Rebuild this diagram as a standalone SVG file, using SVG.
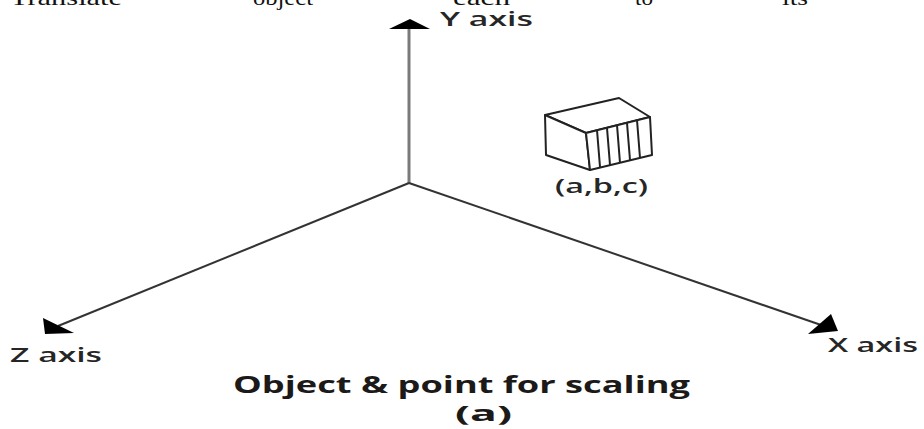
<svg xmlns="http://www.w3.org/2000/svg" width="924" height="429" viewBox="0 0 924 429">
  <style>
    .lbl { font-family: "Open Sans", "DejaVu Sans", sans-serif; font-weight: 600; font-size: 20px; fill: #262626; }
    .top { font-family: "Liberation Serif", "Times New Roman", serif; font-size: 22px; fill: #111; }
    .cap { font-family: "Open Sans", "DejaVu Sans", sans-serif; font-weight: bold; fill: #1c1a18; }
    .axis { stroke: #333; stroke-width: 2; fill: none; }
    .head { fill: #000; stroke: none; }
    .cube { stroke: #222; stroke-width: 2; fill: #fff; stroke-linejoin: round; }
    .hatch { stroke: #222; stroke-width: 2; fill: none; }
  </style>

  <!-- running text line above the figure (clipped at the top edge) -->
  <g id="running-text">
    <text class="top" x="10" y="5" textLength="112" lengthAdjust="spacingAndGlyphs">Translate</text>
    <text class="top" x="253" y="5" textLength="60" lengthAdjust="spacingAndGlyphs">object</text>
    <text class="top" x="453" y="5" textLength="57" lengthAdjust="spacingAndGlyphs">each</text>
    <text class="top" x="635" y="5" textLength="18" lengthAdjust="spacingAndGlyphs">to</text>
    <text class="top" x="782" y="5" textLength="26" lengthAdjust="spacingAndGlyphs">its</text>
  </g>

  <!-- coordinate axes -->
  <g id="connectors">
    <line id="y-axis-line" x1="409" y1="183" x2="409" y2="29" stroke="#7a7a7a" stroke-width="3"/>
    <polygon class="head" points="410,19 389,29 430,29"/>
    <line class="axis" x1="409" y1="183" x2="58" y2="326"/>
    <polygon class="head" points="43,318 45,334 74,333"/>
    <line class="axis" x1="409" y1="183" x2="824" y2="326"/>
    <polygon class="head" points="838,331 808,334 831,314"/>
  </g>

  <g id="y-axis-label">
    <text class="lbl" x="440" y="26" textLength="93" lengthAdjust="spacingAndGlyphs">Y axis</text>
  </g>
  <g id="z-axis-label">
    <text class="lbl" x="10" y="362" textLength="92" lengthAdjust="spacingAndGlyphs">Z axis</text>
  </g>
  <g id="x-axis-label">
    <text class="lbl" x="828" y="352" textLength="90" lengthAdjust="spacingAndGlyphs">X axis</text>
  </g>

  <!-- box object placed at (a,b,c) -->
  <g id="object">
    <polygon class="cube" points="545,115 619,98 650,117 586,133"/>
    <polygon class="cube" points="545,115 586,133 590,170 546,155"/>
    <polygon class="cube" points="586,133 650,117 652,155 590,170"/>
    <path class="hatch" d="M597,130 L600,167 M607,128 L610,165 M617,125 L620,163 M627,123 L630,160 M637,120 L640,158"/>
    <text class="lbl" x="555" y="193" font-size="18" textLength="93" lengthAdjust="spacingAndGlyphs">(a,b,c)</text>
  </g>

  <g id="caption">
    <text class="cap" x="233" y="393" font-size="24" textLength="457" lengthAdjust="spacingAndGlyphs">Object &amp; point for scaling</text>
    <text class="cap" x="455" y="421" font-size="21" textLength="57" lengthAdjust="spacingAndGlyphs">(a)</text>
  </g>
</svg>
